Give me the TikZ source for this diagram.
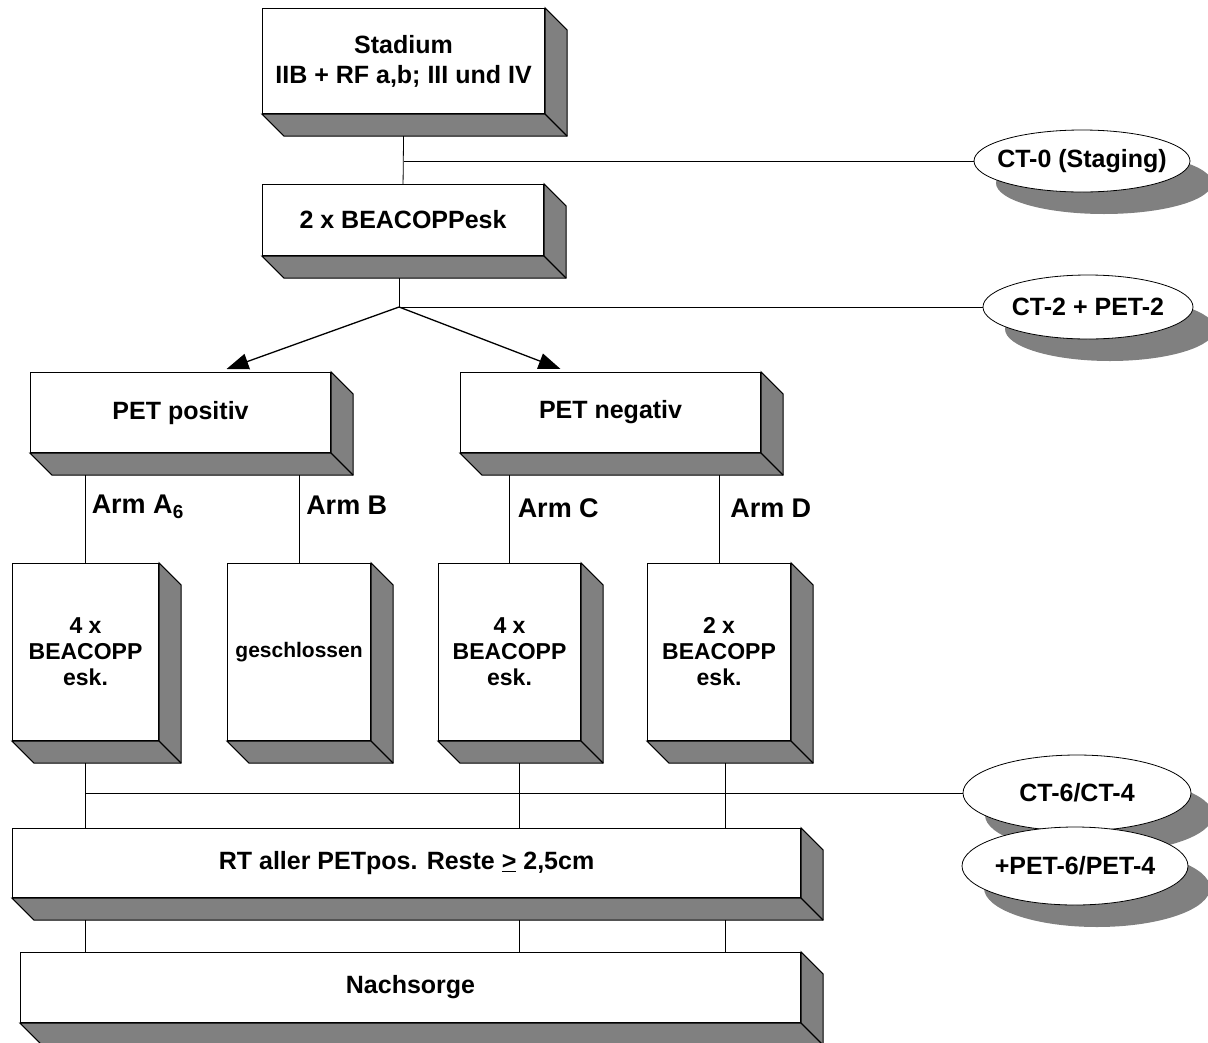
\documentclass[tikz,border=0pt]{standalone}
\usepackage{fontspec}
\setmainfont{Liberation Sans}
\usetikzlibrary{shapes.geometric, shadows, calc, arrows.meta}
\definecolor{sidegray}{HTML}{808080}

\begin{document}
\begin{tikzpicture}[
	x=1pt, y=-1pt,
	box/.style={draw, line width=1.1pt, fill=white, anchor=north west, inner sep=0pt, align=center, font=\fontsize{25}{30}\selectfont\bfseries},
	armbox/.style={box, minimum height=177pt, font=\fontsize{23}{26}\selectfont\bfseries},
	side/.style={fill=sidegray, draw, line width=1.1pt},
	oval/.style={ellipse, draw, fill=white, line width=0.8pt, inner ysep=0pt, inner xsep=-40pt, font=\fontsize{25}{28}\selectfont\bfseries, drop shadow={shadow xshift=22pt, shadow yshift=-22pt, fill=sidegray, opacity=1}},
	arm/.style={anchor=west, inner sep=0pt, font=\fontsize{27}{30}\selectfont\bfseries},
	line/.style={line width=0.8pt},
	arrow/.style={line width=1.3pt, -{Triangle[length=22pt, width=16pt]}}
	]
	
	\useasboundingbox (0,0) rectangle (1208,1042);
	
	% Boxes
	\node[box, minimum width=282pt, minimum height=105pt] (stad) at (262,8) {Stadium\\IIB + RF a,b; III und IV};
	\node[box, minimum width=281pt, minimum height=71pt] (beac) at (262,184) {2 x BEACOPPesk};
	\node[box, minimum width=300pt, minimum height=80pt] (ppos) at (30,372) {PET positiv};
	\node[box, minimum width=300pt, minimum height=80pt] (pneg) at (460,372) {PET negativ};
	\node[armbox, minimum width=146pt] (armA) at (12,563) {4 x\\BEACOPP\\esk.};
	\node[armbox, minimum width=143pt, font=\fontsize{21}{24}\selectfont\bfseries] (armB) at (227,563) {geschlossen};
	\node[armbox, minimum width=142pt] (armC) at (438,563) {4 x\\BEACOPP\\esk.};
	\node[armbox, minimum width=143pt] (armD) at (647,563) {2 x\\BEACOPP\\esk.};
	\node[box, minimum width=788pt, minimum height=69pt] (rt) at (12,828) {RT aller PETpos. Reste \underline{>} 2,5cm};
	\node[box, minimum width=780pt, minimum height=70pt] (nach) at (20,952) {Nachsorge};
	
	% 3D sides
	\foreach \n in {stad, beac, ppos, pneg, armA, armB, armC, armD, rt, nach} {
		\filldraw[side] (\n.north east) -- ($(\n.north east)+(22,22)$) -- ($(\n.south east)+(22,22)$)
			-- ($(\n.south west)+(22,22)$) -- (\n.south west) -- (\n.south east) -- cycle;
		\draw[side] (\n.south east) -- ($(\n.south east)+(22,22)$);
	}
	
	% Controls
	\node[oval, minimum width=216pt, minimum height=62pt] (ct0) at (1082,161) {CT-0 (Staging)};
	\node[oval, minimum width=210pt, minimum height=64pt] (ct2) at (1088,307) {CT-2 + PET-2};
	\node[oval, minimum width=228pt, minimum height=76pt] (ct6) at (1077,793) {CT-6/CT-4};
	\node[oval, minimum width=226pt, minimum height=78pt] (ctp) at (1075,866) {+PET-6/PET-4};
	
	% Stadium -> BEACOPP
	\coordinate (j0) at (stad.south |- ct0.west);
	\draw[line] ($(stad.south)+(0,22)$) -- (beac.north);
	\draw[line] (j0) -- (ct0.west);
	
	% Branch
	\coordinate (j1) at ($(beac.south |- ct2.west)+(-4,0)$);
	\draw[line] ($(beac.south)+(-4,22)$) -- (j1) -- (ct2.west);
	\draw[arrow] (j1) -- ($(ppos.north)+(46,-3)$);
	\draw[arrow] (j1) -- ($(pneg.north)+(-50,-3)$);
	
	% Arms
	\foreach \b/\p in {armA/ppos, armB/ppos, armC/pneg, armD/pneg}
		\draw[line] (\b.north) -- ($(\b.north |- \p.south)+(0,22)$);
	\node[arm] (labA) at ($(armA.north)+(6,-56)$) {Arm A\textsubscript{6}};
	\node[arm] (labB) at ($(armB.north)+(7,-58)$) {Arm B};
	\node[arm] (labC) at ($(armC.north)+(8,-55)$) {Arm C};
	\node[arm] (labD) at ($(armD.north)+(11,-55)$) {Arm D};
	
	% Down to RT and Nachsorge
	\foreach \b/\s in {armA/0, armC/10, armD/6} {
		\draw[line] ($(\b.south)+(\s,22)$) -- ($(\b.south |- rt.north)+(\s,0)$);
		\draw[line] ($(\b.south |- rt.south)+(\s,22)$) -- ($(\b.south |- nach.north)+(\s,0)$);
	}
	\draw[line] (armA.south |- ct6.west) -- (ct6.west);
	
\end{tikzpicture}
\end{document}
